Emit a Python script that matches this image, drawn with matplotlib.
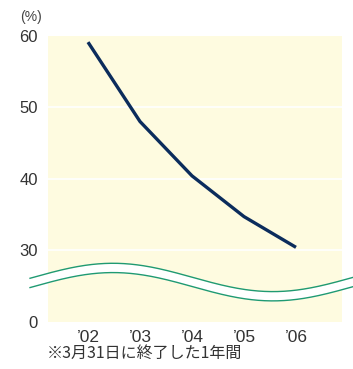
import numpy as np
import matplotlib
matplotlib.use("Agg")
import matplotlib.pyplot as plt

years = ["’02", "’03", "’04", "’05", "’06"]
values = [59.1, 48.0, 40.4, 34.7, 30.4]
ytick_pos = [20, 30, 40, 50, 60]
ytick_labels = ["0", "30", "40", "50", "60"]
unit_label = "(%)"
footnote = "※3月31日に終了した1年間"

plt.rcParams['font.family'] = ['Liberation Sans Narrow', 'Liberation Sans', 'DejaVu Sans']

W, H = 353, 369
fig = plt.figure(figsize=(W / 100, H / 100), dpi=100)
l, r, t, b = 47.7, 342, 35.7, 321.7
ax = fig.add_axes([l / W, 1 - b / H, (r - l) / W, (b - t) / H])
ax.set_facecolor("#fefbe0")
for s in ax.spines.values():
    s.set_visible(False)

x = np.arange(len(years))
ax.set_xlim(-0.775, 4.885)
ax.set_ylim(20, 60)
ax.set_yticks(ytick_pos)
ax.set_yticklabels(ytick_labels)
ax.set_xticks(x)
ax.set_xticklabels(years, fontfamily=['Liberation Sans', 'DejaVu Sans'], fontsize=12.5)
ax.tick_params(length=0, labelcolor="#333333")
ax.tick_params(axis="y", pad=7, labelsize=12)
ax.tick_params(axis="x", pad=6)
for g in [30, 40, 50]:
    ax.axhline(g, color="white", lw=1.2, zorder=1)

ax.plot(x, values, color="#0b2c5c", lw=2.4, zorder=3, solid_capstyle="butt",
        solid_joinstyle="round")

# axis break wave
wx = np.linspace(-1.115, 5.1, 300)
period = 6.15
centre = 26.19
amp = 1.98
gap = 1.3
wy_up = centre + amp * np.cos(2 * np.pi * (wx - 0.48) / period)
wy_lo = wy_up - gap
ax.fill_between(wx, wy_lo, wy_up, color="white", zorder=4, clip_on=False, lw=0)
ax.plot(wx, wy_up, color="#1f9a72", lw=1.0, zorder=5, clip_on=False)
ax.plot(wx, wy_lo, color="#1f9a72", lw=1.0, zorder=5, clip_on=False)

fig.text(31 / W, 1 - 17 / H, unit_label, ha="center", va="center",
         fontsize=10, color="#444444")
fig.text(47 / W, 1 - 353 / H, footnote, ha="left", va="center",
         fontsize=11.5, color="#333333",
         family=['Noto Sans CJK JP', 'DejaVu Sans'])

fig.savefig("out.png", dpi=100)
